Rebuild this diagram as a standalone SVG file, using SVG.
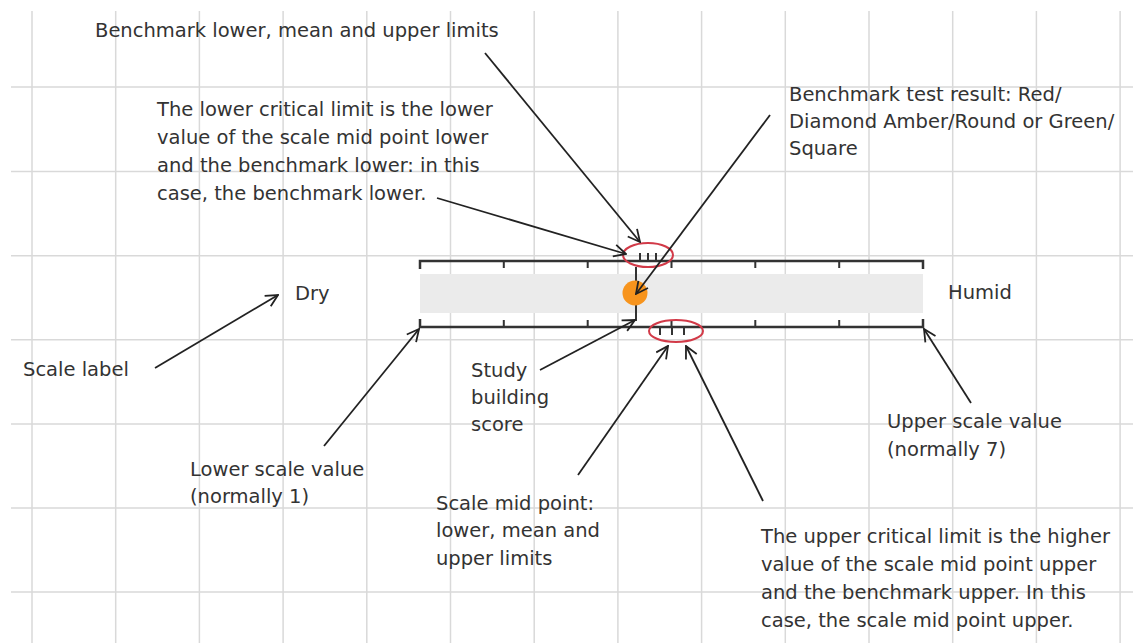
<svg xmlns="http://www.w3.org/2000/svg" width="1133" height="643" viewBox="0 0 1133 643">
<style>
.grid{stroke:#d9d9d9;stroke-width:1.5;fill:none}
.t{font-family:"DejaVu Sans",Verdana,sans-serif;font-size:19.5px;fill:#333}
.bar{stroke:#333;stroke-width:2.5;fill:none}
.tick{stroke:#333;stroke-width:2;fill:none}
.ell{stroke:#d23a48;stroke-width:2;fill:none}
.arr{stroke:#222;stroke-width:1.8;fill:none;marker-end:url(#ah)}
</style>
<defs>
<marker id="ah" viewBox="0 0 14 14" refX="13" refY="7" markerWidth="14" markerHeight="14" markerUnits="userSpaceOnUse" orient="auto">
<path d="M1,1 L13,7 L1,13" fill="none" stroke="#222" stroke-width="1.8"/>
</marker>
</defs>
<rect width="1133" height="643" fill="#fff"/>
<g id="grid">
<path class="grid" d="M32,11V643M115.7,11V643M199.4,11V643M283.1,11V643M366.8,11V643M450.5,11V643M534.2,11V643M617.9,11V643M701.6,11V643M785.3,11V643M869,11V643M952.7,11V643M1036.4,11V643M1120.1,11V643"/>
<path class="grid" d="M11,87H1133M11,171.5H1133M11,255.7H1133M11,339.8H1133M11,424H1133M11,508H1133M11,592H1133"/>
</g>
<g id="scale">
<rect x="420" y="274" width="503" height="39" fill="#ebebeb"/>
<path class="bar" d="M420,269V261H923V269"/>
<path class="bar" d="M420,319V327H923V319"/>
<path class="tick" d="M503.8,261V268M587.7,261V268M671.5,261V268M755.3,261V268M839.2,261V268"/>
<path class="tick" d="M503.8,327V320M587.7,327V320M671.5,327V320M755.3,327V320M839.2,327V320"/>
</g>
<g id="benchmark-limits">
<path class="tick" d="M640,261V253M648,261V253M656,261V253"/>
<ellipse class="ell" cx="648" cy="255" rx="25" ry="12"/>
</g>
<g id="midpoint-limits">
<path class="tick" d="M660,327V335M672,327V335M684,327V335"/>
<ellipse class="ell" cx="676" cy="331" rx="27" ry="11"/>
</g>
<g id="study-score">
<path class="tick" d="M636,267V321"/>
<circle cx="635" cy="293" r="12.5" fill="#f7941d"/>
</g>
<g id="connectors">
<path class="arr" d="M485,53L640,242"/>
<path class="arr" d="M437,198L626,254"/>
<path class="arr" d="M770,115L636,294"/>
<path class="arr" d="M155,368L278,295"/>
<path class="arr" d="M324,446L419,329"/>
<path class="arr" d="M540,370L635,320"/>
<path class="arr" d="M578,475L668,346"/>
<path class="arr" d="M763,501L686,346"/>
<path class="arr" d="M971,403L924,329"/>
</g>
<g id="label-benchmark-limits"><text class="t" x="95" y="37">Benchmark lower, mean and upper limits</text></g>
<g id="label-lower-critical">
<text class="t" x="157" y="116">The lower critical limit is the lower</text>
<text class="t" x="157" y="144">value of the scale mid point lower</text>
<text class="t" x="157" y="172">and the benchmark lower: in this</text>
<text class="t" x="157" y="200">case, the benchmark lower.</text>
</g>
<g id="label-test-result">
<text class="t" x="789" y="101">Benchmark test result: Red/</text>
<text class="t" x="789" y="128">Diamond Amber/Round or Green/</text>
<text class="t" x="789" y="155">Square</text>
</g>
<g id="label-dry"><text class="t" x="295" y="300">Dry</text></g>
<g id="label-humid"><text class="t" x="948" y="299">Humid</text></g>
<g id="label-scale"><text class="t" x="23" y="376">Scale label</text></g>
<g id="label-lower-scale">
<text class="t" x="190" y="476">Lower scale value</text>
<text class="t" x="190" y="503">(normally 1)</text>
</g>
<g id="label-study">
<text class="t" x="471" y="377">Study</text>
<text class="t" x="471" y="404">building</text>
<text class="t" x="471" y="431">score</text>
</g>
<g id="label-midpoint">
<text class="t" x="436" y="510">Scale mid point:</text>
<text class="t" x="436" y="537">lower, mean and</text>
<text class="t" x="436" y="565">upper limits</text>
</g>
<g id="label-upper-scale">
<text class="t" x="887" y="428">Upper scale value</text>
<text class="t" x="887" y="456">(normally 7)</text>
</g>
<g id="label-upper-critical">
<text class="t" x="761" y="543">The upper critical limit is the higher</text>
<text class="t" x="761" y="571">value of the scale mid point upper</text>
<text class="t" x="761" y="599">and the benchmark upper. In this</text>
<text class="t" x="761" y="627">case, the scale mid point upper.</text>
</g>
</svg>
